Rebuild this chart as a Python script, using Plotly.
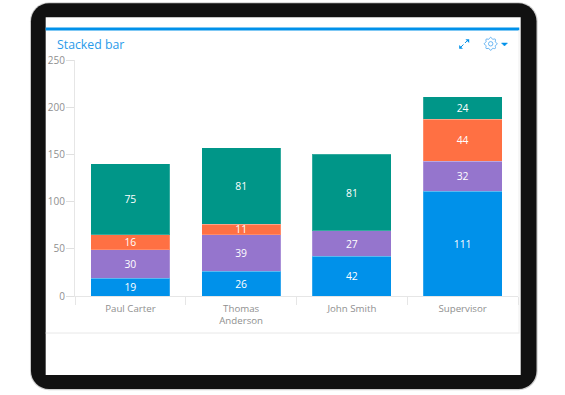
import math
import plotly.graph_objects as go

categories = ["Paul Carter", "Thomas<br>Anderson", "John Smith", "Supervisor"]
blue_values = [19, 26, 42, 111]
purple_values = [30, 39, 27, 32]
orange_values = [16, 11, None, 44]
teal_values = [75, 81, 81, 24]
y_ticks = [0, 50, 100, 150, 200, 250]

W, H = 565, 395
L, R, T, B = 75.3, 518, 60, 296
FONT = "Open Sans"
BLUE = "#0091EA"


def X(p):
    return (p - L) / (R - L)


def Y(p):
    return (B - p) / (B - T)


def rr(x0, y0, x1, y1, r):
    k = r * 0.45
    pts = [
        ("M", x0 + r, y0), ("L", x1 - r, y0),
        ("C", x1 - k, y0, x1, y0 + k, x1, y0 + r), ("L", x1, y1 - r),
        ("C", x1, y1 - k, x1 - k, y1, x1 - r, y1), ("L", x0 + r, y1),
        ("C", x0 + k, y1, x0, y1 - k, x0, y1 - r), ("L", x0, y0 + r),
        ("C", x0, y0 + k, x0 + k, y0, x0 + r, y0),
    ]
    out = []
    for p in pts:
        coords = p[1:]
        s = " ".join(f"{X(coords[i]):.5f},{Y(coords[i+1]):.5f}" for i in range(0, len(coords), 2))
        out.append(p[0] + " " + s)
    return " ".join(out) + " Z"


def poly(points, close=False):
    s = " L ".join(f"{X(a):.5f},{Y(b):.5f}" for a, b in points)
    return "M " + s + (" Z" if close else "")


shapes = [
    dict(type="path", path=rr(30.3, 2.3, 537.7, 390.3, 19), fillcolor="#cfcfcf", line_width=0, layer="below"),
    dict(type="path", path=rr(31.3, 3.3, 536.5, 389, 18), fillcolor="#111111", line_width=0, layer="below"),
    dict(type="rect", x0=X(46), x1=X(520.7), y0=Y(375), y1=Y(17.3),
         fillcolor="white", line_width=0, layer="below"),
    dict(type="rect", x0=X(46), x1=X(519.3), y0=Y(30.6), y1=Y(27.6),
         fillcolor=BLUE, line_width=0, layer="below"),
    dict(type="line", x0=X(46), x1=X(519.5), y0=Y(333), y1=Y(333),
         line=dict(color="#e8e8e8", width=1), layer="below"),
    dict(type="line", x0=X(519), x1=X(519), y0=Y(333), y1=Y(30),
         line=dict(color="#efefef", width=1), layer="below"),
    # expand icon
    dict(type="path", path=poly([(460.5, 47.5), (463.5, 44.5)]), line=dict(color=BLUE, width=1)),
    dict(type="path", path=poly([(465, 43), (468, 40)]), line=dict(color=BLUE, width=1)),
    dict(type="path", path=poly([(465.5, 39.3), (469.2, 39.3), (469.2, 43)], True), fillcolor=BLUE, line_width=0),
    dict(type="path", path=poly([(459.2, 45), (459.2, 48.8), (463, 48.8)], True), fillcolor=BLUE, line_width=0),
    # settings dropdown
    dict(type="path", path=poly([(501.5, 43), (507.5, 43), (504.5, 46)], True), fillcolor=BLUE, line=dict(color=BLUE, width=0.5)),
]

# gear outline: eight lobes around the icon centre
gear_pts = []
for i in range(48):
    a = 2 * math.pi * i / 48
    rad = 5.7 + 0.8 * math.cos(8 * a)
    gear_pts.append((490.7 + rad * math.cos(a), 43.8 + rad * math.sin(a)))
shapes.append(dict(type="path", path=poly(gear_pts, True), fillcolor="rgba(0,0,0,0)", line=dict(color="#5aaef0", width=0.9)))
shapes.append(dict(type="circle", x0=X(488.5), x1=X(492.9), y0=Y(46), y1=Y(41.6),
                   line=dict(color="#5aaef0", width=0.9)))
for s in shapes:
    s["xref"] = "x domain"
    s["yref"] = "y domain"

fig = go.Figure()
for name, vals, col in [
    ("Blue", blue_values, "#0091EA"),
    ("Purple", purple_values, "#9575CD"),
    ("Orange", orange_values, "#FF7043"),
    ("Teal", teal_values, "#009688"),
]:
    fig.add_trace(go.Bar(
        x=categories, y=vals, name=name,
        marker=dict(color=col, line=dict(color="rgba(255,255,255,0.2)", width=1)),
        text=vals, texttemplate="%{y}", textposition="inside", insidetextanchor="middle",
        textangle=0, constraintext="none", textfont=dict(family=FONT, size=10.4, color="white"),
        cliponaxis=False,
    ))

fig.update_layout(
    barmode="stack", bargap=0.285, width=W, height=H, showlegend=False,
    margin=dict(l=L, r=W - R, t=T, b=H - B, autoexpand=False),
    paper_bgcolor="white", plot_bgcolor="rgba(0,0,0,0)",
    shapes=shapes,
    annotations=[dict(text="Stacked bar", xref="x domain", yref="y domain", x=X(55), y=Y(44.5),
                      xanchor="left", yanchor="middle", showarrow=False,
                      font=dict(family=FONT, size=12.3, color="#2A9BEA"))],
)
fig.update_xaxes(
    type="category", tickson="boundaries", ticks="outside", ticklen=8, tickcolor="#e6e6e6", tickwidth=1,
    showline=True, linecolor="#e6e6e6", linewidth=1, showgrid=False, ticklabelstandoff=3,
    tickfont=dict(family=FONT, size=9.7, color="#8f8f8f"),
)
fig.update_yaxes(
    range=[0, 250], tickvals=y_ticks, ticks="outside", ticklen=8, tickcolor="#e0e0e0", tickwidth=1,
    showline=True, linecolor="#e6e6e6", linewidth=1, showgrid=False, zeroline=False, ticklabelstandoff=-1,
    tickfont=dict(family=FONT, size=10, color="#8f8f8f"),
)
fig.write_html("out.html", config=dict(displayModeBar=False),
               post_script="document.body.style.margin='0';document.body.style.overflow='hidden';")
